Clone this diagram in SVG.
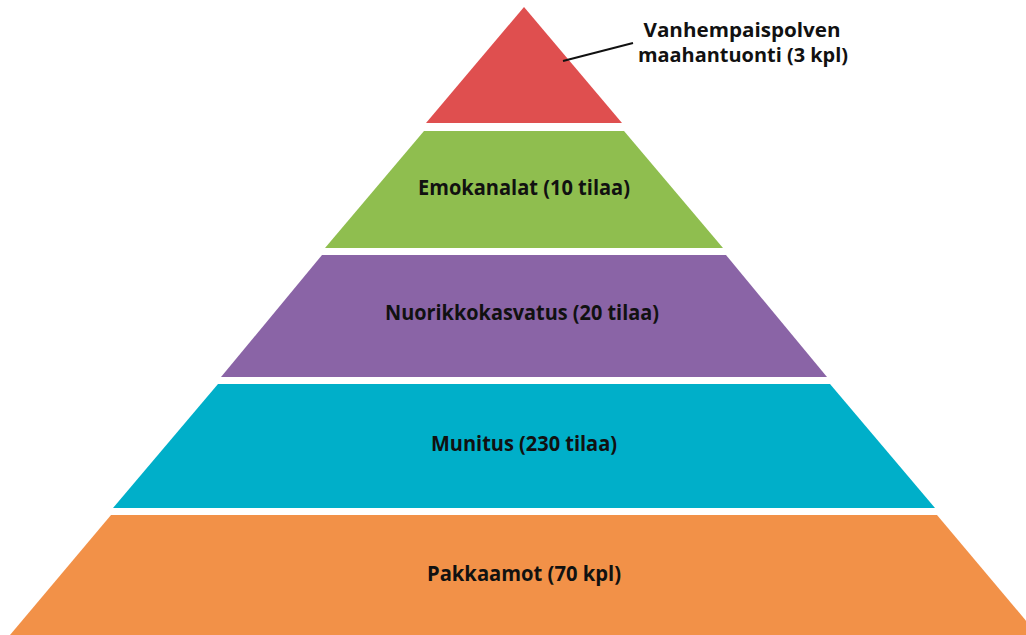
<svg xmlns="http://www.w3.org/2000/svg" width="1026" height="635" viewBox="0 0 1026 635">
  <style>
    .lbl { font-family: "Open Sans", "Liberation Sans", sans-serif; font-weight: bold; font-size: 21px; fill: #111111; text-anchor: middle; }
    .top { font-size: 19.5px; }
    .leader { stroke: #111111; stroke-width: 2; fill: none; }
  </style>
  <rect width="1026" height="635" fill="#ffffff"/>
  <g id="node-vanhempaispolvi">
    <polygon points="524,7 622,123 426,123" fill="#DF4F4F"/>
    <text class="lbl top" x="742" y="37" textLength="197" lengthAdjust="spacingAndGlyphs">Vanhempaispolven</text>
    <text class="lbl top" x="743" y="62" textLength="210" lengthAdjust="spacingAndGlyphs">maahantuonti (3 kpl)</text>
  </g>
  <g id="node-emokanalat">
    <polygon points="424,131 624,131 723,248 325,248" fill="#8FBE4F"/>
    <text class="lbl" x="524" y="195" textLength="212" lengthAdjust="spacingAndGlyphs">Emokanalat (10 tilaa)</text>
  </g>
  <g id="node-nuorikkokasvatus">
    <polygon points="322,255 726,255 827,377 221,377" fill="#8A64A6"/>
    <text class="lbl" x="522" y="320" textLength="274" lengthAdjust="spacingAndGlyphs">Nuorikkokasvatus (20 tilaa)</text>
  </g>
  <g id="node-munitus">
    <polygon points="218,384 830,384 935,508 113,508" fill="#00AFC9"/>
    <text class="lbl" x="524" y="451" textLength="186" lengthAdjust="spacingAndGlyphs">Munitus (230 tilaa)</text>
  </g>
  <g id="node-pakkaamot">
    <polygon points="111,515 937,515 1038,635 10,635" fill="#F29148"/>
    <text class="lbl" x="524" y="581" textLength="194" lengthAdjust="spacingAndGlyphs">Pakkaamot (70 kpl)</text>
  </g>
  <g id="connectors">
    <line class="leader" x1="563" y1="61" x2="633" y2="43"/>
  </g>
</svg>
